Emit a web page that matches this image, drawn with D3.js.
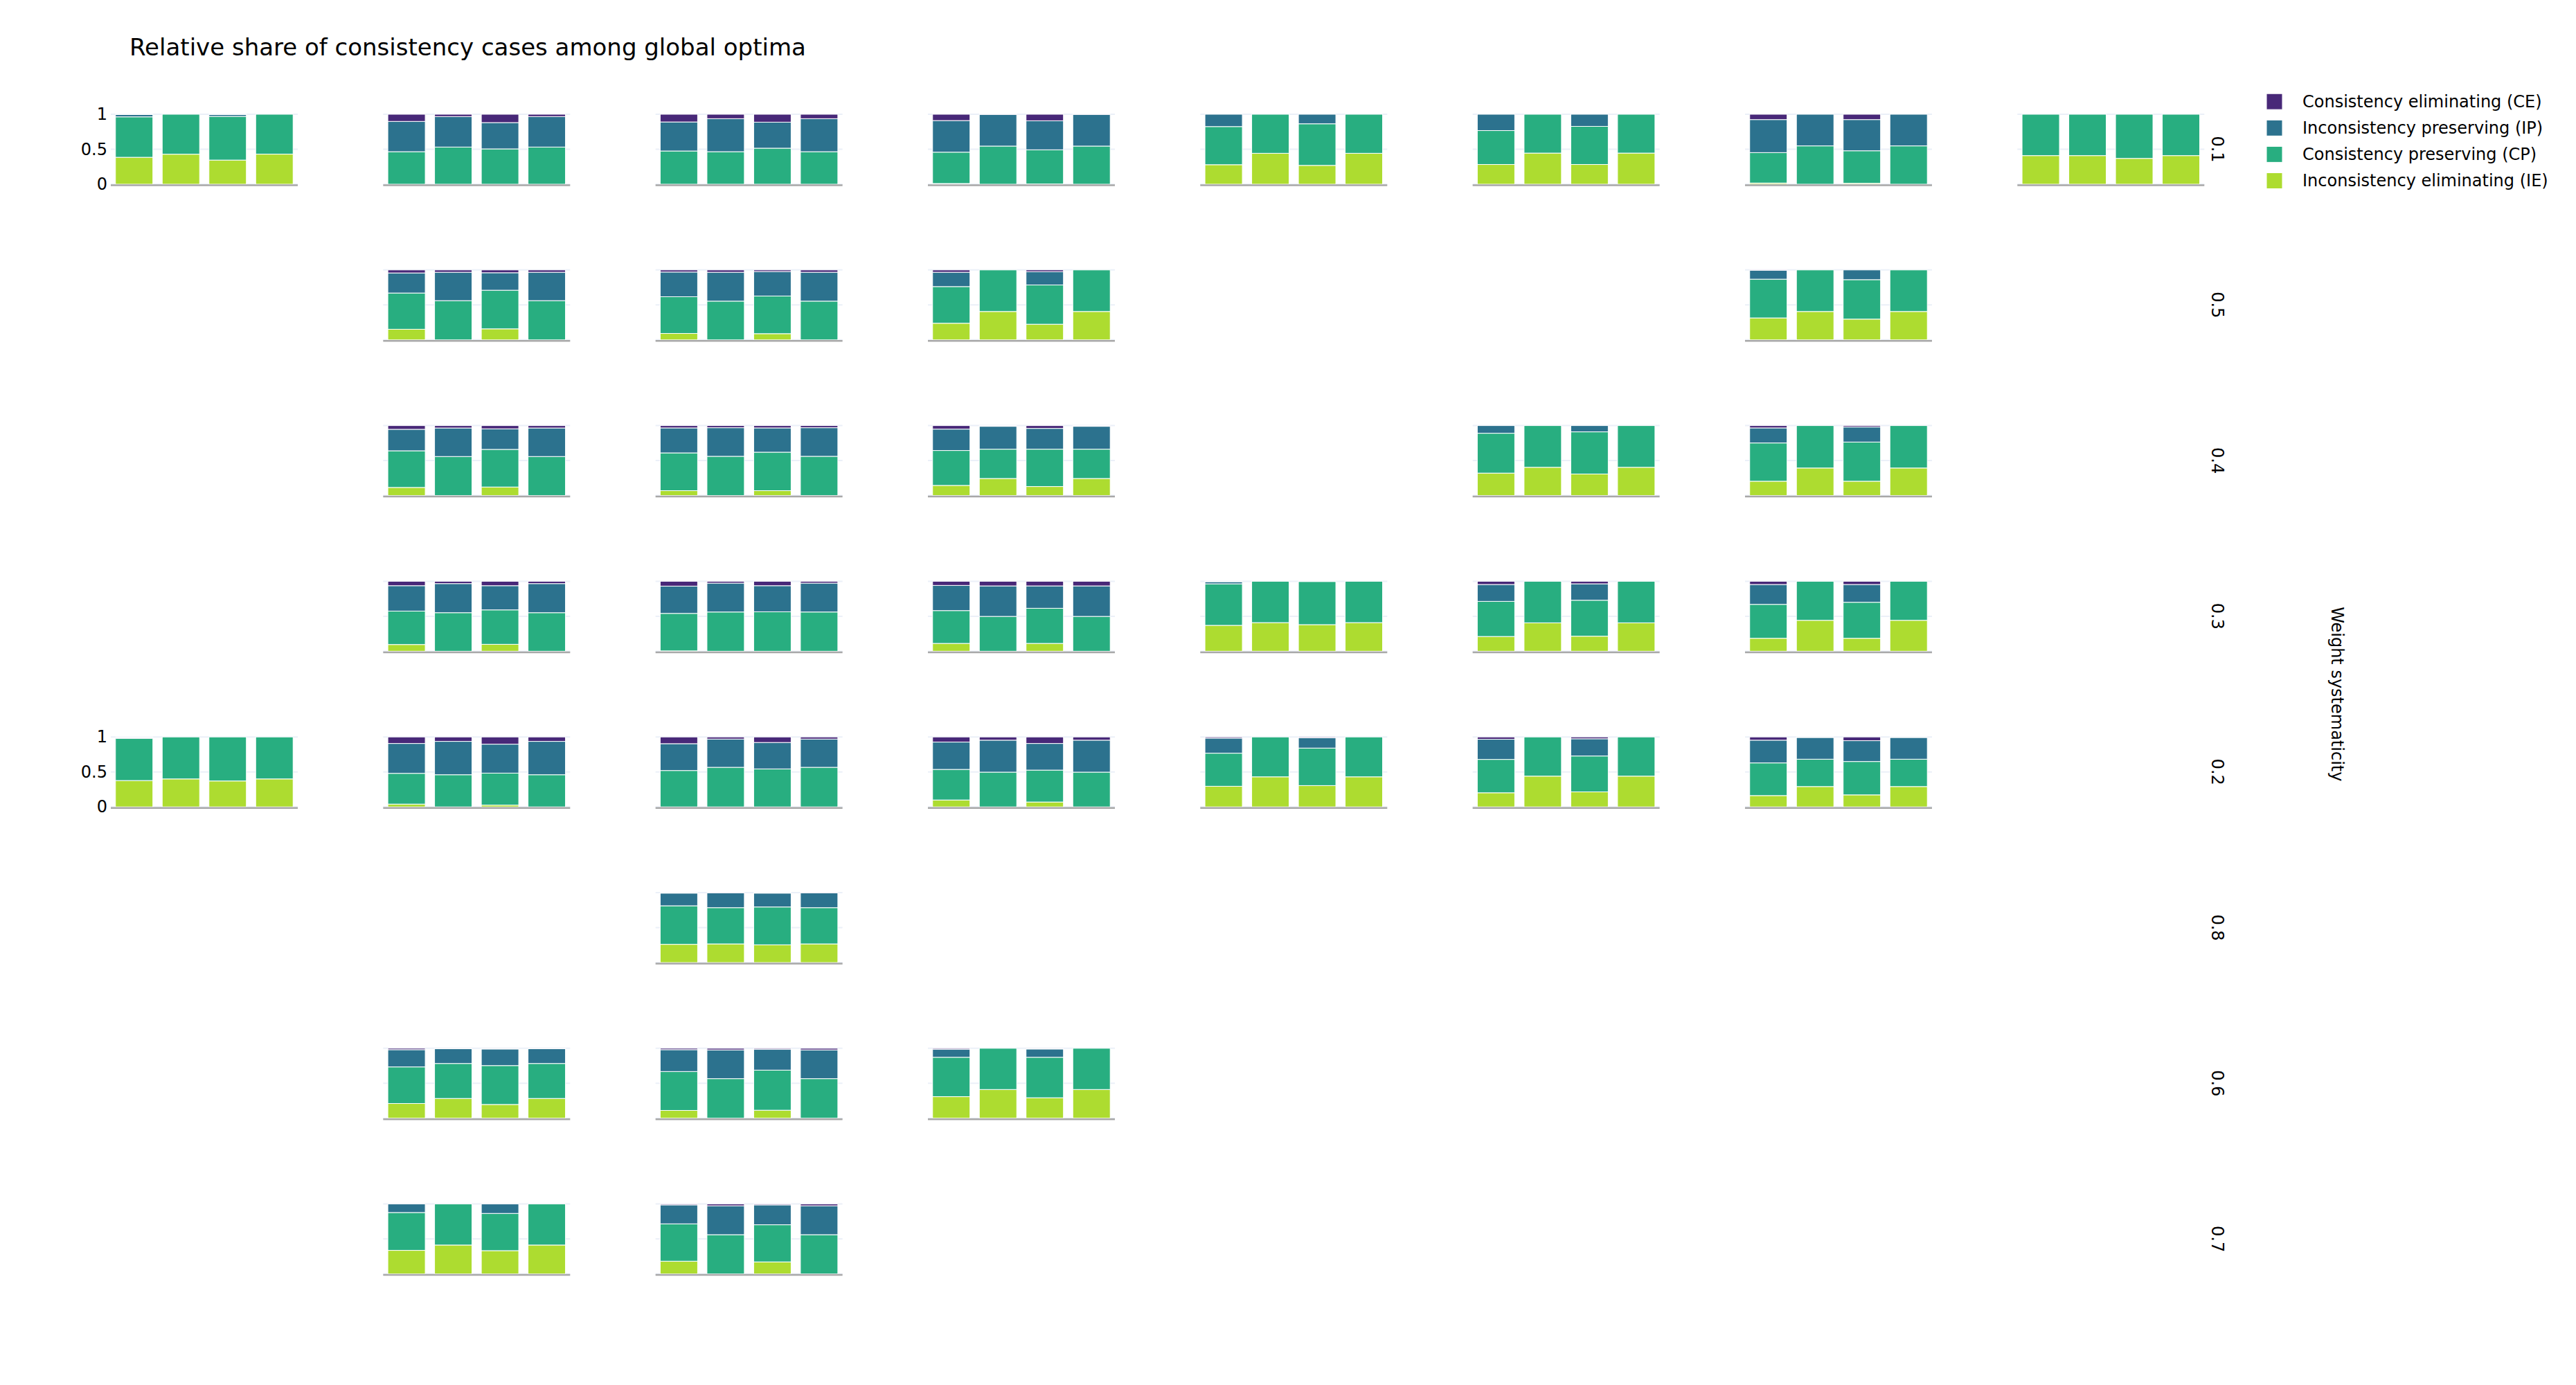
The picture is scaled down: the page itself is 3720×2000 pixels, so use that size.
<!DOCTYPE html>
<html>
<head>
<meta charset="utf-8">
<script src="https://cdn.jsdelivr.net/npm/d3@7"></script>
<style>
  html, body { margin: 0; padding: 0; background: #fff; }
  svg { display: block; font-family: "DejaVu Sans", Verdana, sans-serif; }
</style>
</head>
<body>
<svg id="chart" width="3720" height="2000"></svg>
<script>
// ---------------- DATA ----------------
const titleText = "Relative share of consistency cases among global optima";
const rowTitle = "Weight systematicity";
const rowLabels = ["0.1", "0.5", "0.4", "0.3", "0.2", "0.8", "0.6", "0.7"];
const colLabels = ["c1", "c2", "c3", "c4", "c5", "c6", "c7", "c8"];
const barLabels = ["b1", "b2", "b3", "b4"];
const seriesKeys = ["IE", "CP", "IP", "CE"]; // stacking order, bottom to top
const seriesNames = {
  CE: "Consistency eliminating (CE)",
  IP: "Inconsistency preserving (IP)",
  CP: "Consistency preserving (CP)",
  IE: "Inconsistency eliminating (IE)"
};
const legendOrder = ["CE", "IP", "CP", "IE"];
const yTicks = [0, 0.5, 1];

// facets present: [row label, column label]
const facets = [
  ["0.1","c1"],["0.1","c2"],["0.1","c3"],["0.1","c4"],["0.1","c5"],["0.1","c6"],["0.1","c7"],["0.1","c8"],
  ["0.5","c2"],["0.5","c3"],["0.5","c4"],["0.5","c7"],
  ["0.4","c2"],["0.4","c3"],["0.4","c4"],["0.4","c6"],["0.4","c7"],
  ["0.3","c2"],["0.3","c3"],["0.3","c4"],["0.3","c5"],["0.3","c6"],["0.3","c7"],
  ["0.2","c1"],["0.2","c2"],["0.2","c3"],["0.2","c4"],["0.2","c5"],["0.2","c6"],["0.2","c7"],
  ["0.8","c3"],
  ["0.6","c2"],["0.6","c3"],["0.6","c4"],
  ["0.7","c2"],["0.7","c3"]
];

// share per facet (same order as facets), four bars each
const ieValues = [
  [.385,.429,.345,.43],[0,0,0,0],[0,0,0,0],[.01,0,.003,0],[.279,.442,.269,.442],[.282,.445,.282,.445],[.017,0,.013,0],[.409,.409,.369,.409],
  [.152,0,.158,0],[.092,0,.089,0],[.238,.406,.224,.406],[.314,.406,.297,.406],
  [.116,0,.122,0],[.07,0,.07,0],[.145,.244,.129,.244],[.321,.404,.308,.404],[.205,.394,.205,.394],
  [.096,0,.099,0],[.005,0,0,0],[.112,0,.112,0],[.37,.409,.38,.409],[.211,.406,.215,.406],[.185,.442,.185,.442],
  [.377,.40,.371,.40],[.04,0,.026,0],[0,0,0,0],[.099,0,.07,0],[.295,.43,.305,.43],[.202,.44,.215,.44],[.162,.291,.172,.291],
  [.261,.267,.254,.267],
  [.211,.283,.197,.283],[.112,0,.115,0],[.309,.411,.293,.411],
  [.337,.413,.333,.413],[.182,0,.172,0]
];
const cpValues = [
  [.578,.571,.625,.57],[.465,.531,.505,.531],[.475,.465,.515,.465],[.448,.545,.489,.545],[.545,.558,.595,.558],[.485,.555,.545,.555],[.435,.548,.465,.548],[.591,.591,.631,.591],
  [.518,.561,.552,.561],[.525,.554,.538,.554],[.524,.594,.561,.594],[.554,.594,.564,.594],
  [.524,.558,.538,.558],[.54,.561,.55,.561],[.499,.419,.534,.419],[.57,.596,.603,.596],[.547,.606,.56,.606],
  [.478,.551,.492,.551],[.536,.561,.564,.561],[.469,.498,.502,.498],[.594,.591,.617,.591],[.502,.594,.514,.594],[.485,.558,.515,.558],
  [.603,.60,.629,.60],[.44,.46,.457,.46],[.52,.566,.543,.566],[.437,.497,.456,.497],[.473,.57,.536,.57],[.477,.56,.513,.56],[.467,.391,.477,.391],
  [.551,.518,.541,.518],
  [.523,.5,.556,.5],[.556,.566,.573,.566],[.563,.589,.579,.589],
  [.541,.587,.532,.587],[.534,.561,.531,.561]
];
const ipValues = [
  [.032,0,.025,0],[.433,.436,.376,.436],[.415,.472,.372,.472],[.452,.452,.415,.452],[.176,0,.136,0],[.233,0,.173,0],[.472,.452,.446,.452],[0,0,0,0],
  [.287,.406,.25,.406],[.353,.413,.35,.413],[.205,0,.189,0],[.127,0,.139,0],
  [.307,.408,.294,.408],[.357,.409,.347,.409],[.306,.327,.297,.327],[.109,0,.089,0],[.215,0,.215,0],
  [.363,.416,.346,.416],[.39,.413,.373,.413],[.36,.436,.32,.436],[.03,0,.003,0],[.241,0,.235,0],[.284,0,.254,0],
  [.01,0,0,0],[.427,.477,.414,.477],[.384,.404,.378,.404],[.391,.457,.381,.457],[.215,0,.146,0],[.288,0,.246,0],[.325,.311,.298,.311],
  [.181,.212,.198,.212],
  [.246,.21,.237,.21],[.312,.411,.299,.411],[.115,0,.118,0],
  [.122,0,.135,0],[.271,.413,.284,.413]
];
const ceValues = [
  [.005,0,.005,0],[.102,.033,.119,.033],[.11,.063,.113,.063],[.09,.003,.093,.003],[0,0,0,0],[0,0,0,0],[.076,0,.076,0],[0,0,0,0],
  [.043,.033,.04,.033],[.03,.033,.023,.033],[.033,0,.026,0],[.005,0,0,0],
  [.053,.034,.046,.034],[.033,.03,.033,.03],[.05,.01,.04,.01],[0,0,0,0],[.033,0,.02,0],
  [.063,.033,.063,.033],[.069,.026,.063,.026],[.059,.066,.066,.066],[.006,0,0,0],[.046,0,.036,0],[.046,0,.046,0],
  [.01,0,0,0],[.093,.063,.103,.063],[.096,.03,.079,.03],[.073,.046,.093,.046],[.017,0,.013,0],[.033,0,.026,0],[.046,.007,.053,.007],
  [.007,.003,.007,.003],
  [.02,.007,.01,.007],[.02,.023,.013,.023],[.013,0,.01,0],
  [0,0,0,0],[.013,.026,.013,.026]
];

// ---------------- STYLE ----------------
const colors = { CE: "#482878", IP: "#2c728e", CP: "#28ae80", IE: "#addc30" };
const W = 3720, H = 2000;
const plotLeft = 160, plotRight = 3183.3, plotTop = 165, plotBottom = 1839.6;
const facetW = 270, facetH = 101;

const svg = d3.select("#chart");

// facet position scales
const colScale = d3.scaleBand().domain(colLabels).range([plotLeft, plotRight])
  .paddingInner((393.33 - facetW) / 393.33).paddingOuter(0);
const rowScale = d3.scaleBand().domain(rowLabels).range([plotTop, plotBottom])
  .paddingInner((224.8 - facetH) / 224.8).paddingOuter(0);

const x = d3.scaleBand().domain(barLabels).range([0, facetW]).paddingInner(0.2).paddingOuter(0.1);
const y = d3.scaleLinear().domain([0, 1]).range([facetH, 0]);

const stack = d3.stack().keys(seriesKeys);
const valueArrays = { IE: ieValues, CP: cpValues, IP: ipValues, CE: ceValues };

// Title
svg.append("text")
  .attr("x", 187).attr("y", 80)
  .attr("font-size", 34).attr("fill", "#000")
  .text(titleText);

facets.forEach((f, i) => {
  const [rl, cl] = f;
  const g = svg.append("g")
    .attr("transform", `translate(${colScale(cl)},${rowScale(rl)})`);

  // gridlines
  g.selectAll("line.grid").data(yTicks).join("line")
    .attr("class", "grid")
    .attr("x1", 0).attr("x2", facetW)
    .attr("y1", d => y(d)).attr("y2", d => y(d))
    .attr("stroke", "#ebf0f8").attr("stroke-width", 2);

  const rows = barLabels.map((b, j) => {
    const o = { bar: b };
    seriesKeys.forEach(k => { o[k] = valueArrays[k][i][j]; });
    return o;
  });
  const stacked = stack(rows);

  g.selectAll("g.series").data(stacked).join("g")
    .attr("class", "series")
    .attr("fill", d => colors[d.key])
    .selectAll("rect").data(d => d).join("rect")
    .attr("x", d => x(d.data.bar))
    .attr("width", x.bandwidth())
    .attr("y", d => y(d[1]))
    .attr("height", d => Math.max(0, y(d[0]) - y(d[1])))
    .attr("stroke", "#ffffff").attr("stroke-width", 1);

  // x axis line
  g.append("line")
    .attr("x1", 0).attr("x2", facetW)
    .attr("y1", facetH + 1.5).attr("y2", facetH + 1.5)
    .attr("stroke", "#a8a8a8").attr("stroke-width", 2.5);

  // y axis ticks on first column
  if (cl === colLabels[0]) {
    const ax = g.append("g").call(
      d3.axisLeft(y).tickValues(yTicks).tickSize(0).tickPadding(5).tickFormat(d3.format("~g"))
    );
    ax.select(".domain").remove();
    ax.selectAll("text").attr("font-size", 24).attr("font-family", "DejaVu Sans").attr("fill", "#2a3f5f").attr("fill", "#000");
  }
});

// Row labels (facet row annotations)
svg.selectAll("text.rowlab").data(rowLabels).join("text")
  .attr("class", "rowlab")
  .attr("transform", d => `translate(3202,${rowScale(d) + facetH / 2}) rotate(90)`)
  .attr("text-anchor", "middle")
  .attr("dominant-baseline", "central")
  .attr("font-size", 24).attr("fill", "#000")
  .text(d => d);

// Row axis title
svg.append("text")
  .attr("transform", `translate(3375,${(plotTop + plotBottom) / 2}) rotate(90)`)
  .attr("text-anchor", "middle")
  .attr("dominant-baseline", "central")
  .attr("font-size", 24).attr("fill", "#000")
  .text(rowTitle);

// Legend
const legend = svg.append("g");
const legY = d3.scalePoint().domain(legendOrder).range([146.7, 261]);
const li = legend.selectAll("g").data(legendOrder).join("g")
  .attr("transform", d => `translate(3273,${legY(d)})`);
li.append("rect")
  .attr("x", 0).attr("y", -11.5).attr("width", 23).attr("height", 23)
  .attr("fill", d => colors[d]).attr("stroke", "#ffffff").attr("stroke-width", 1);
li.append("text")
  .attr("x", 52).attr("y", 0)
  .attr("dominant-baseline", "central")
  .attr("font-size", 24).attr("fill", "#000")
  .text(d => seriesNames[d]);
</script>
</body>
</html>
